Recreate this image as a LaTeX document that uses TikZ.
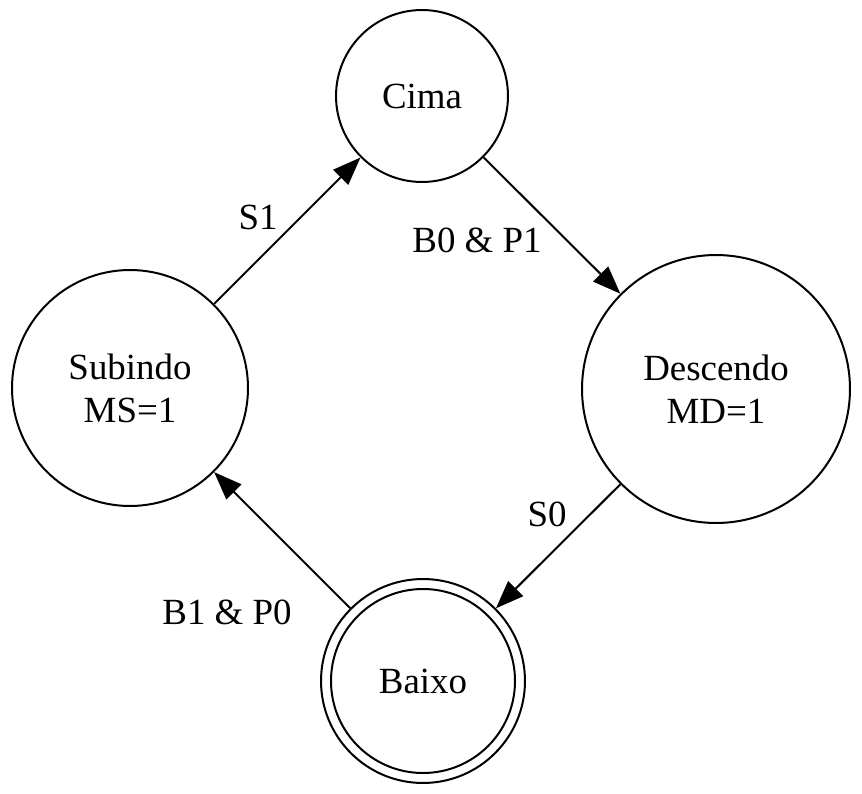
\documentclass[tikz,border=0pt]{standalone}
\usepackage{fontspec}
\setmainfont{Liberation Serif}
\usetikzlibrary{arrows.meta}

\begin{document}
\begin{tikzpicture}[x=0.02cm,y=0.02cm]
\tikzset{mainline/.style={line width=0.04cm,color=black}};
\tikzset{state/.style={mainline,draw,circle,inner sep=0pt,align=center,font=\fontsize{21}{24.5}\selectfont}};
\tikzset{trans/.style={mainline,-{Triangle[length=0.56cm,width=0.42cm]}}};
\tikzset{edgelabel/.style={inner sep=0pt,font=\fontsize{21}{24.5}\selectfont}};

\pgfmathsetmacro{\xhi}{862};
\pgfmathsetmacro{\ylo}{-794};
\pgfmathsetmacro{\rinner}{92};

\useasboundingbox (0,0) rectangle (\xhi,\ylo);

\node[state, minimum size=3.44cm] (cima) at (422,-96) {Cima};
\node[state, minimum size=4.72cm] (subindo) at (130,-388) {Subindo\\MS=1};
\node[state, minimum size=5.36cm] (descendo) at (716,-389) {Descendo\\MD=1};
\node[state, minimum size=4.08cm] (baixo) at (423,-681) {Baixo};
\draw [mainline] (baixo.center) circle (\rinner);

\draw [trans] (subindo) -- (cima);
\draw [trans] (cima) -- (descendo);
\draw [trans] (descendo) -- (baixo);
\draw [trans] (baixo) -- (subindo);

\node[edgelabel] (lbl_s1) at (258,-217) {S1};
\node[edgelabel] (lbl_b0p1) at (477,-240) {B0 \& P1};
\node[edgelabel] (lbl_s0) at (547,-514) {S0};
\node[edgelabel] (lbl_b1p0) at (227,-612) {B1 \& P0};
\end{tikzpicture}
\end{document}
